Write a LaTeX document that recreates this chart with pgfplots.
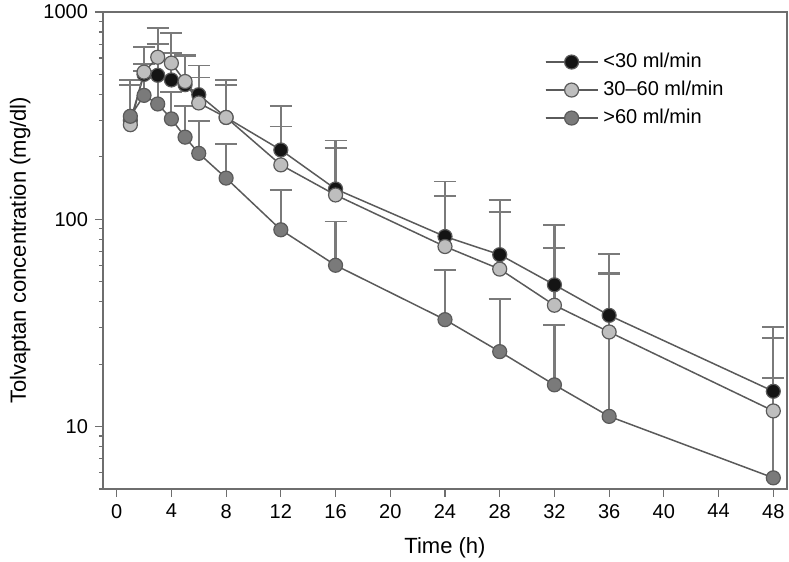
\documentclass[border=0pt]{standalone}
\usepackage{fontspec}
\setmainfont{Liberation Sans}
\usepackage{pgfplots}
\pgfplotsset{compat=1.18}

\definecolor{linegray}{HTML}{5A5A5A}
\definecolor{errgray}{HTML}{7A7A7A}
\definecolor{axgray}{HTML}{6E6E6E}
\definecolor{ptblack}{HTML}{141414}
\definecolor{ptlight}{HTML}{BEBEBE}
\definecolor{ptdark}{HTML}{7A7A7A}

\begin{document}
\begin{tikzpicture}
\useasboundingbox (-51.5pt,-36.5pt) rectangle (343pt,244.5pt);
\begin{axis}[
    scale only axis,
    width=342pt, height=238.5pt,
    ymode=log,
    xmin=-1, xmax=49,
    ymin=5, ymax=1000,
    xtick={0,4,...,48},
    ytick={10,100,1000},
    yticklabels={10,100,1000},
    minor ytick={5,6,7,8,9,20,30,40,50,60,70,80,90,200,300,400,500,600,700,800,900},
    tick align=outside,
    xtick pos=bottom, ytick pos=left,
    major tick length=4pt, minor tick length=2pt,
    every tick/.style={axgray, line width=0.6pt},
    axis line style={axgray, line width=0.7pt},
    tick label style={font=\fontsize{10}{12}\selectfont},
    label style={font=\fontsize{11}{13}\selectfont},
    /pgf/number format/assume math mode=true,
    xlabel={Time (h)},
    ylabel={Tolvaptan concentration (mg/dl)},
    xlabel style={at={(axis description cs:0.5,-0.124)}, anchor=center},
    ylabel style={at={(axis description cs:-0.121,0.5)}, anchor=center},
    legend style={draw=none, fill=none, inner sep=0pt, outer sep=0pt,
        at={(axis description cs:0.646,0.916)}, anchor=north west,
        row sep=4pt, column sep=2.5pt,
        nodes={inner sep=0pt, text height=7.5pt, text depth=2.5pt},
        font=\fontsize{10}{12}\selectfont},
    legend cell align=left,
    legend image code/.code={
        \draw[mark=none] (0pt,0pt) -- (26pt,0pt);
        \draw[mark repeat=2, mark phase=2] plot coordinates {(0pt,0pt) (13pt,0pt) (26pt,0pt)};
    },
    every axis plot/.append style={
        draw=linegray, line width=0.75pt, mark=*, mark size=3.5pt,
        /pgfplots/error bars/y dir=plus,
        /pgfplots/error bars/y explicit,
        /pgfplots/error bars/error bar style={draw=errgray, line width=1.1pt},
        /pgfplots/error bars/error mark options={draw=errgray, line width=0.9pt, mark size=5.5pt, rotate=90},
    },
]

% <30 ml/min
\addplot[mark options={fill=ptblack, draw=linegray, line width=0.6pt}]
    coordinates {
    (1,300) +- (0,168)
    (2,500) +- (0,60)
    (3,495) +- (0,205)
    (4,470) +- (0,162)
    (5,446) +- (0,164)
    (6,399) +- (0,153)
    (8,310) +- (0,161)
    (12,216) +- (0,136)
    (16,140) +- (0,100)
    (24,82.6) +- (0,69.4)
    (28,67.5) +- (0,56.5)
    (32,48.3) +- (0,45.7)
    (36,34.4) +- (0,33.6)
    (48,14.8) +- (0,15.5)
    };

% 30-60 ml/min
\addplot[mark options={fill=ptlight, draw=linegray, line width=0.6pt}]
    coordinates {
    (1,286) +- (0,157)
    (2,513) +- (0,163)
    (3,605) +- (0,229)
    (4,567) +- (0,222)
    (5,462) +- (0,159)
    (6,364) +- (0,119)
    (8,310) +- (0,136)
    (12,183) +- (0,97)
    (16,131) +- (0,89)
    (24,73.9) +- (0,56.1)
    (28,57.5) +- (0,50.5)
    (32,38.5) +- (0,34.5)
    (36,28.6) +- (0,26.4)
    (48,11.9) +- (0,14.9)
    };

% >60 ml/min
\addplot[mark options={fill=ptdark, draw=linegray, line width=0.6pt}]
    coordinates {
    (1,314) +- (0,129)
    (2,396) +- (0,124)
    (3,360) +- (0,120)
    (4,305) +- (0,106)
    (5,249) +- (0,102)
    (6,208) +- (0,91)
    (8,158) +- (0,73)
    (12,89) +- (0,49)
    (16,60) +- (0,37.5)
    (24,32.8) +- (0,24.2)
    (28,23) +- (0,18.4)
    (32,15.9) +- (0,15.1)
    (36,11.2) +- (0,43.4)
    (48,5.66) +- (0,11.5)
    };

\legend{{<30 ml/min}, {30–60 ml/min}, {>60 ml/min}}
\end{axis}
\end{tikzpicture}
\end{document}
